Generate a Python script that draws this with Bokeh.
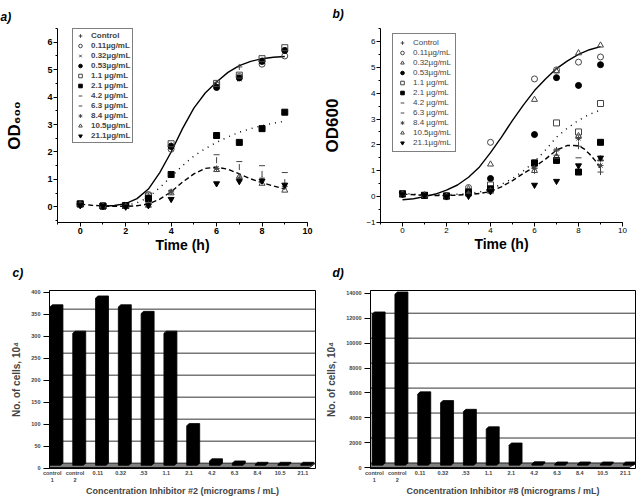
import math
from bokeh.plotting import figure
from bokeh.layouts import column, row
from bokeh.models import (SingleIntervalTicker, FixedTicker, Legend, LegendItem, Range1d)
from bokeh.embed import file_html
from bokeh.resources import INLINE

FONT = "Liberation Sans"

# ---------------- data: growth curves ----------------
time = [0, 1, 2, 3, 4, 6, 7, 8, 9]
conc_labels = ["Control", "0.11µg/mL", "0.32µg/mL", "0.53µg/mL", "1.1 µg/mL", "2.1 µg/mL",
               "4.2 µg/mL", "6.3 µg/mL", "8.4 µg/mL", "10.5µg/mL", "21.1µg/mL"]

a_control = [0.08, 0.03, 0.05, 0.40, 2.25, 4.45, 5.10, 5.35, 5.70]
a_011 = [0.10, 0.03, 0.05, 0.45, 2.10, 4.45, 4.75, 5.20, 5.50]
a_032 = [0.08, 0.03, 0.04, 0.40, 2.25, 4.40, 4.65, 5.35, 5.70]
a_053 = [0.10, 0.03, 0.05, 0.30, 2.20, 4.35, 4.70, 5.30, 5.70]
a_11 = [0.12, 0.03, 0.05, 0.40, 2.30, 4.50, 4.80, 5.40, 5.80]
a_21 = [0.10, 0.03, 0.05, 0.30, 1.18, 2.60, 2.35, 2.85, 3.45]
a_42 = [0.08, 0.03, 0.03, 0.15, 0.60, 1.90, 1.65, 1.50, 1.25]
a_63 = [0.08, 0.03, 0.02, 0.10, 0.55, 1.70, 1.45, 1.20, 0.90]
a_84 = [0.08, 0.03, 0.02, 0.08, 0.55, 1.40, 1.05, 1.00, 0.75]
a_105 = [0.10, 0.03, 0.02, 0.05, 0.50, 1.35, 1.10, 0.85, 0.60]
a_211 = [0.05, 0.03, 0.00, 0.05, 0.28, 0.85, 0.93, 0.95, 0.80]

a_solid_t = [1, 1.5, 2, 2.5, 3, 3.5, 4, 4.5, 5, 5.5, 6, 6.5, 7, 7.5, 8, 8.5, 9]
a_solid = [0.02, 0.05, 0.12, 0.30, 0.65, 1.25, 2.00, 2.85, 3.60, 4.15, 4.55, 4.90, 5.15, 5.30, 5.40, 5.45, 5.48]
a_dot_t = [2, 2.5, 3, 3.5, 4, 4.5, 5, 5.5, 6, 6.5, 7, 7.5, 8, 8.5, 9]
a_dot = [0.05, 0.15, 0.35, 0.70, 1.10, 1.50, 1.85, 2.12, 2.35, 2.55, 2.72, 2.85, 2.96, 3.05, 3.12]
a_dash_t = [0, 0.5, 1, 1.5, 2, 2.5, 3, 3.5, 4, 4.5, 5, 5.5, 6, 6.5, 7, 7.5, 8, 8.5, 9]
a_dash = [0.10, 0.06, 0.03, 0.02, 0.02, 0.04, 0.10, 0.28, 0.55, 0.90, 1.20, 1.40, 1.45, 1.37, 1.20, 1.02, 0.88, 0.76, 0.65]

b_control = [0.10, 0.05, 0.03, 0.20, 0.30, 1.20, 1.80, 1.95, 0.95]
b_011 = [0.12, 0.05, 0.03, 0.35, 2.10, 4.55, 4.90, 5.20, 5.40]
b_032 = [0.10, 0.05, 0.02, 0.30, 1.25, 3.75, 4.85, 5.55, 5.85]
b_053 = [0.10, 0.05, 0.02, 0.20, 0.70, 2.40, 4.60, 4.30, 5.10]
b_11 = [0.12, 0.05, 0.03, 0.20, 0.45, 1.30, 2.85, 2.50, 3.60]
b_21 = [0.10, 0.05, 0.02, 0.15, 0.30, 1.30, 1.40, 0.95, 2.10]
b_42 = [0.08, 0.05, 0.02, 0.10, 0.25, 1.10, 1.60, 1.50, 1.40]
b_63 = [0.08, 0.05, 0.02, 0.10, 0.20, 1.00, 1.70, 2.00, 1.00]
b_84 = [0.10, 0.05, 0.02, 0.10, 0.25, 1.10, 1.80, 2.25, 1.20]
b_105 = [0.10, 0.05, 0.02, 0.10, 0.20, 1.00, 1.55, 2.35, 1.45]
b_211 = [0.08, 0.05, 0.00, 0.02, 0.20, 0.45, 0.60, 1.20, 1.50]

b_solid_t = [0, 0.5, 1, 1.5, 2, 2.5, 3, 3.5, 4, 4.5, 5, 5.5, 6, 6.5, 7, 7.5, 8, 8.5, 9]
b_solid = [-0.12, -0.08, 0.0, 0.10, 0.25, 0.45, 0.75, 1.15, 1.70, 2.30, 2.95, 3.55, 4.10, 4.55, 4.95, 5.25, 5.50, 5.68, 5.80]
b_dot_t = [0, 1, 2, 3, 3.5, 4, 4.5, 5, 5.5, 6, 6.5, 7, 7.5, 8, 8.5, 9]
b_dot = [0.12, 0.08, 0.07, 0.12, 0.18, 0.30, 0.48, 0.70, 1.00, 1.35, 1.80, 2.30, 2.65, 2.95, 3.18, 3.35]
b_dash_t = [0, 1, 2, 3, 3.5, 4, 4.5, 5, 5.5, 6, 6.5, 7, 7.5, 8, 8.25, 8.5, 8.75, 9]
b_dash = [0.10, 0.05, 0.04, 0.08, 0.12, 0.20, 0.38, 0.62, 0.90, 1.15, 1.45, 1.80, 1.98, 1.97, 1.85, 1.65, 1.40, 1.10]

# ---------------- data: cell counts ----------------
bar_cats = ["control\n1", "control\n2", "0.11", "0.32", ".53", "1.1", "2.1", "4.2", "6.3", "8.4", "10.5", "21.1"]
c_values = [360, 300, 380, 360, 345, 300, 90, 10, 5, 2, 2, 2]
d_values = [12100, 13700, 5700, 5000, 4300, 2900, 1600, 100, 80, 80, 80, 80]
c_ticks = [0, 50, 100, 150, 200, 250, 300, 350, 400]
d_ticks = [0, 2000, 4000, 6000, 8000, 10000, 12000, 14000]

a_series = [a_control, a_011, a_032, a_053, a_11, a_21, a_42, a_63, a_84, a_105, a_211]
b_series = [b_control, b_011, b_032, b_053, b_11, b_21, b_42, b_63, b_84, b_105, b_211]
a_markers = ["cross", "circle", "x", "circle", "square", "square", "dash", "dash", "asterisk", "triangle", "inverted_triangle"]
b_markers = ["cross", "circle", "triangle", "circle", "square", "square", "dash", "dash", "asterisk", "triangle", "inverted_triangle"]
filled = [False, False, False, True, False, True, False, False, False, False, True]
angles = [0, 0, 0, 0, 0, 0, 0, 1.5708, 0, 0, 0]


def set_tag(p, tag, offset, standoff):
    p.title.text = tag
    p.title.align = "left"
    p.title.vertical_align = "top"
    p.title.offset = offset
    p.title.standoff = standoff
    p.title.text_font = FONT
    p.title.text_font_style = "bold italic"
    p.title.text_font_size = "12px"
    p.title.text_color = "black"


def growth_panel(series, markers, curves, yr, w, h, borders, ylabel, ylab_standoff,
                 bold_ticks, leg_loc, leg_pad, tag, tag_off, tag_standoff):
    bl, br, bt, bb = borders
    p = figure(width=w, height=h, x_range=Range1d(-1, 10), y_range=Range1d(*yr),
               output_backend="svg", toolbar_location=None,
               min_border_left=bl, min_border_right=br, min_border_top=bt, min_border_bottom=bb)
    p.outline_line_color = None
    p.grid.visible = False
    p.xaxis.ticker = SingleIntervalTicker(interval=2, num_minor_ticks=2)
    p.yaxis.ticker = SingleIntervalTicker(interval=1, num_minor_ticks=2)
    for ax in (p.xaxis[0], p.yaxis[0]):
        ax.major_tick_out = 4
        ax.major_tick_in = 0
        ax.minor_tick_out = 2
        ax.minor_tick_in = 0
        ax.axis_line_color = "black"
        ax.major_label_text_font = FONT
        ax.major_label_text_font_size = "9px" if bold_ticks else "8px"
        ax.major_label_text_font_style = "bold" if bold_ticks else "normal"
        ax.major_label_text_color = "black"
        ax.major_label_standoff = 1
        ax.axis_label_text_font = FONT
        ax.axis_label_text_font_style = "bold"
        ax.axis_label_text_color = "black"
    p.xaxis.axis_label = "Time (h)"
    p.xaxis.axis_label_text_font_size = "14px"
    p.xaxis.axis_label_standoff = 0
    p.yaxis.axis_label = ylabel
    p.yaxis.axis_label_text_font_size = "17px"
    p.yaxis.axis_label_standoff = ylab_standoff

    (st, sv), (dt, dv), (ht, hv) = curves
    p.line(st, sv, line_color="black", line_width=1.4)
    p.line(dt, dv, line_color="black", line_width=1.4, line_dash="1 5")
    p.line(ht, hv, line_color="black", line_width=1.4, line_dash="5 3")

    items = []
    for vals, mk, fl, ang, lab in zip(series, markers, filled, angles, conc_labels):
        col = "black" if fl else "#444444"
        r = p.scatter(time, vals, marker=mk, size=6, angle=ang,
                      line_color=col, fill_color=col if fl else None, line_width=1)
        items.append(LegendItem(label=lab, renderers=[r]))
    leg = Legend(items=items, location=leg_loc)
    leg.border_line_color = "black"
    leg.border_line_width = 1
    leg.background_fill_color = "white"
    leg.label_text_font = FONT
    leg.label_text_font_style = "bold" if bold_ticks else "normal"
    leg.label_text_font_size = "8px"
    leg.glyph_width = 10
    leg.glyph_height = 9
    leg.label_height = 9
    leg.spacing = 1
    leg.padding = leg_pad
    leg.margin = 0
    leg.label_standoff = 6
    p.add_layout(leg)
    set_tag(p, tag, tag_off, tag_standoff)
    return p


def bar_panel(values, ticks, yr, xr, borders, xlabel, tag, tag_off, tag_standoff):
    bl, br, bt, bb = borders
    w, h = 320, 242
    p = figure(width=w, height=h, x_range=Range1d(*xr), y_range=Range1d(*yr),
               output_backend="svg", toolbar_location=None,
               min_border_left=bl, min_border_right=br, min_border_top=bt, min_border_bottom=bb)
    p.grid.visible = False
    p.outline_line_color = "black"
    p.outline_line_width = 1
    frame_h = h - bt - bb
    frame_w = w - bl - br
    ppu_y = frame_h / (yr[1] - yr[0])
    ppu_x = frame_w / (xr[1] - xr[0])
    dy = 5.0 / ppu_y
    dxf = 6.5 / ppu_x

    # back-wall gridlines
    gy = [t + dy for t in ticks[1:]]
    p.segment(x0=[xr[0]] * len(gy), y0=gy, x1=[xr[1]] * len(gy), y1=gy, line_color="#333333", line_width=1)
    # floor
    p.patch([xr[0] - dxf, xr[1] - dxf, xr[1], xr[0]], [0, 0, dy, dy],
            fill_color="#808080", line_color="#222222", line_width=1)
    p.segment(x0=[xr[0] - dxf], y0=[0], x1=[xr[1] - dxf], y1=[0], line_color="black", line_width=1.5)

    # 3D bars
    half = 0.23
    ddx = 2.5 / ppu_x
    ddy = 2.2 / ppu_y
    yb = 2.8 / ppu_y
    xs, ys = [], []
    for i, v in enumerate(values):
        c = i + 0.13
        x0, x1 = c - half, c + half
        xs.append([x0, x1, x1 + ddx, x1 + ddx, x0 + ddx, x0])
        ys.append([yb, yb, yb + ddy, yb + v + ddy, yb + v + ddy, yb + v])
    p.patches(xs, ys, fill_color="black", line_color="black", line_width=0.8)

    p.yaxis.ticker = FixedTicker(ticks=ticks)
    p.yaxis.major_tick_out = 6
    p.yaxis.major_tick_in = 0
    p.yaxis.minor_tick_out = 0
    p.yaxis.axis_line_color = "black"
    p.yaxis.major_label_text_font = FONT
    p.yaxis.major_label_text_font_size = "5.5px"
    p.yaxis.major_label_text_font_style = "bold"
    p.yaxis.major_label_standoff = 3
    p.yaxis.axis_label = "No. of cells, 10⁴"
    p.yaxis.axis_label_text_font = FONT
    p.yaxis.axis_label_text_font_size = "10px"
    p.yaxis.axis_label_text_font_style = "bold"
    p.yaxis.axis_label_standoff = 6

    p.xaxis.ticker = FixedTicker(ticks=list(range(len(bar_cats))))
    p.xaxis.major_label_overrides = {i: lab for i, lab in enumerate(bar_cats)}
    p.xaxis.axis_line_color = None
    p.xaxis.major_tick_line_color = None
    p.xaxis.minor_tick_line_color = None
    p.xaxis.major_tick_out = 0
    p.xaxis.major_tick_in = 0
    p.xaxis.major_label_text_font = FONT
    p.xaxis.major_label_text_font_size = "5.5px"
    p.xaxis.major_label_text_font_style = "bold"
    p.xaxis.major_label_standoff = 1
    p.xaxis.axis_label = xlabel
    p.xaxis.axis_label_text_font = FONT
    p.xaxis.axis_label_text_font_size = "9px"
    p.xaxis.axis_label_text_font_style = "bold"
    p.xaxis.axis_label_standoff = 0
    set_tag(p, tag, tag_off, tag_standoff)
    return p


pa = growth_panel(a_series, a_markers, ((a_solid_t, a_solid), (a_dot_t, a_dot), (a_dash_t, a_dash)),
                  (-0.57, 6.5), 320, 256, (57, 13, 20, 34), "OD₆₀₀", 20,
                  True, (15, 79), 2, "a)", -57, 6)
pb = growth_panel(b_series, b_markers, ((b_solid_t, b_solid), (b_dot_t, b_dot), (b_dash_t, b_dash)),
                  (-1, 6.5), 320, 256, (60, 18, 26, 34), "OD600", 21,
                  False, (12, 70), 4, "b)", -48, 12)
pc = bar_panel(c_values, c_ticks, (-1, 403.5), (-0.12, 11.55), (49, 5, 33, 27),
               "Concentration Inhibitor #2 (micrograms / mL)", "c)", -37, 18)
pd = bar_panel(d_values, d_ticks, (-50, 14211), (-0.17, 11.44), (50, 5, 33, 27),
               "Concentration Inhibitor #8 (micrograms / mL)", "d)", -38, 18)

layout = column(row(pa, pb), row(pc, pd))
open("out.html", "w").write(file_html(layout, INLINE))
